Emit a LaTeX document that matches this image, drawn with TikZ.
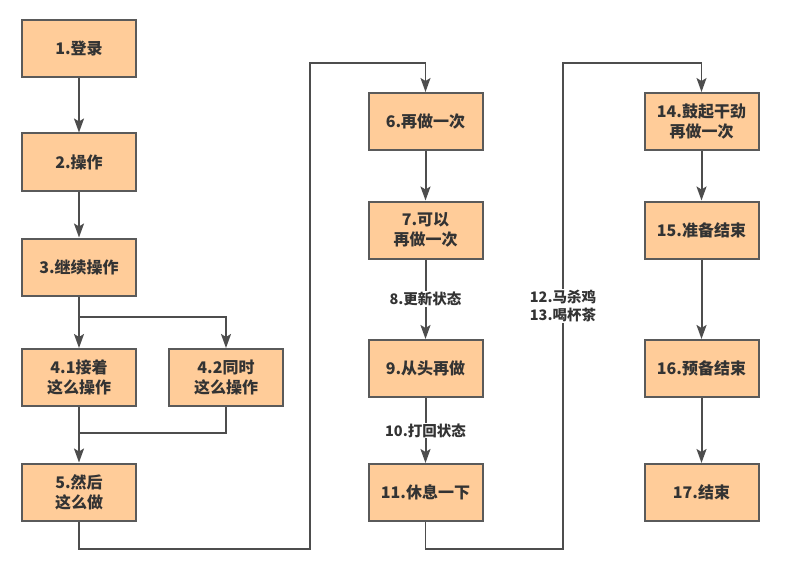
\documentclass[tikz,border=0pt]{standalone}
\usepackage{fontspec}
\newfontfamily\cjk{Noto Sans CJK SC}
\usetikzlibrary{arrows.meta}
\usetikzlibrary{positioning}

\definecolor{boxfill}{HTML}{FFCC99}
\definecolor{boxline}{HTML}{5A5A5A}
\definecolor{wire}{HTML}{4D4D4D}
\definecolor{ink}{HTML}{333333}

\begin{document}
\begin{tikzpicture}[x=1pt, y=-1pt,
  stepbox/.style={draw=boxline, line width=2pt, fill=boxfill, text=ink,
    minimum width=114pt, minimum height=57pt, inner sep=2pt, align=center,
    font=\cjk\bfseries\fontsize{16}{20}\selectfont},
  flow/.style={draw=wire, line width=2pt, -{Stealth[length=14pt, width=10pt, inset=3pt]}},
  wireline/.style={draw=wire, line width=2pt},
  loopline/.style={draw=wire, line width=1.3pt},
  lbl/.style={fill=white, text=ink, inner sep=1pt, align=center,
    font=\cjk\bfseries\fontsize{14.5}{18}\selectfont}]
\useasboundingbox (0,0) rectangle (791,572);

% first column
\node[stepbox] (b1) at (79,48.5) {1.登录};
\node[stepbox] (b2) at (79,162) {2.操作};
\node[stepbox] (b3) at (79,267) {3.继续操作};
\node[stepbox] (b41) at (79,377.5) {4.1接着\\这么操作};
\node[stepbox] (b42) at (226,377.5) {4.2同时\\这么操作};
\node[stepbox] (b5) at (79,492) {5.然后\\这么做};

% second column
\node[stepbox] (b6) at (425.5,121.5) {6.再做一次};
\node[stepbox] (b7) at (425.5,230) {7.可以\\再做一次};
\node[stepbox] (b9) at (425.5,368.5) {9.从头再做};
\node[stepbox] (b11) at (425.5,492.5) {11.休息一下};

% third column
\node[stepbox] (b14) at (701.5,121.5) {14.鼓起干劲\\再做一次};
\node[stepbox] (b15) at (701.5,230) {15.准备结束};
\node[stepbox] (b16) at (701.5,368.5) {16.预备结束};
\node[stepbox] (b17) at (701.5,492.5) {17.结束};

\coordinate (split) at (79,317);
\coordinate (merge) at (79,433);
\coordinate (aB) at (310,549);
\coordinate (aT) at (310,63);
\coordinate (cB) at (563,549);
\coordinate (cT) at (563,63);

\draw[flow] (b1) -- (b2);
\draw[flow] (b2) -- (b3);
\draw[flow] (b3) -- (split) -| (b42);
\draw[flow] (split) -- (b41);
\draw[wireline] (b42) |- (merge);
\draw[flow] (b41) -- (b5);
\draw[loopline, -{Stealth[length=14pt, width=10pt, inset=3pt]}] (b5) |- (aB) -- (aT) -| (b6);

\draw[flow] (b6) -- (b7);
\draw[flow] (b7) -- node[lbl] {8.更新状态} (b9);
\draw[flow] (b9) -- node[lbl] {10.打回状态} (b11);
\draw[loopline, -{Stealth[length=14pt, width=10pt, inset=3pt]}] (b11) |- (cB) -- node[lbl] {12.马杀鸡\\13.喝杯茶} (cT) -| (b14);

\draw[flow] (b14) -- (b15);
\draw[flow] (b15) -- (b16);
\draw[flow] (b16) -- (b17);

\end{tikzpicture}
\end{document}
